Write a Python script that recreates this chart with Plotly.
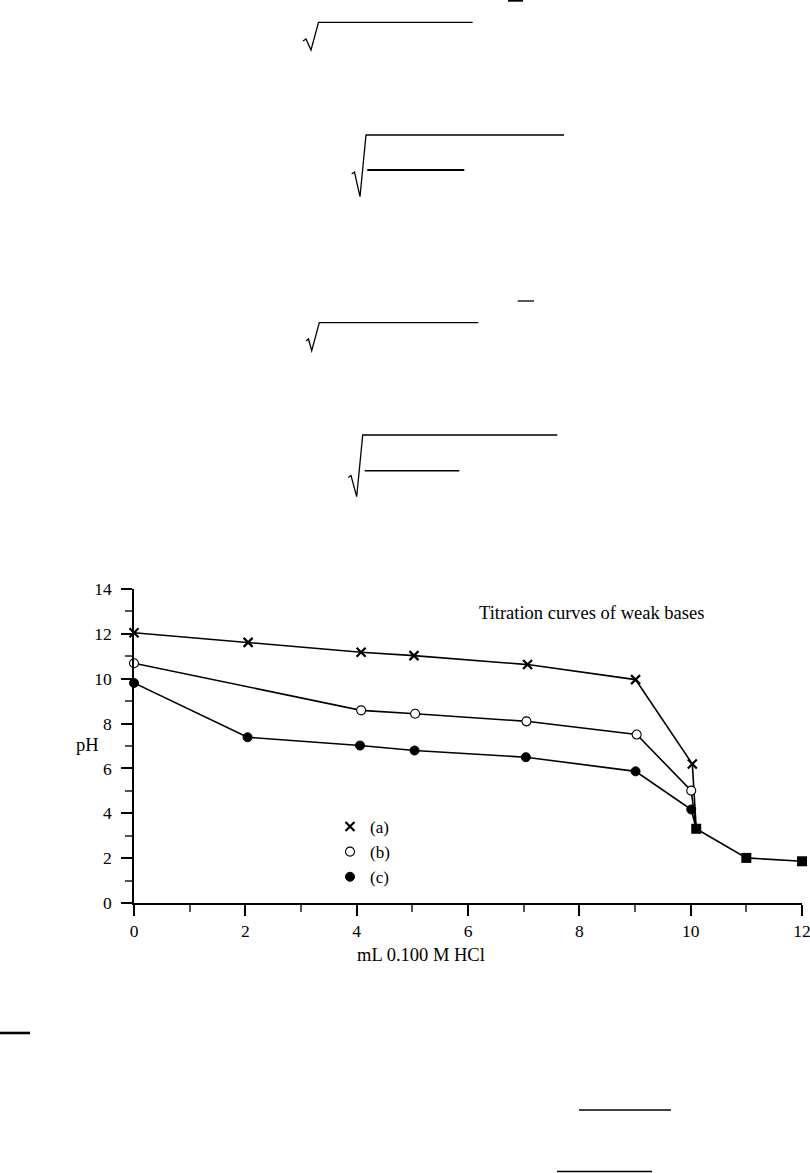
import plotly.graph_objects as go

# ---------------- data ----------------
x_a = [0, 2.05, 4.08, 5.03, 7.07, 9.01, 10.03]
ph_a = [12.05, 11.62, 11.18, 11.03, 10.63, 9.96, 6.2]

x_b = [0, 4.08, 5.05, 7.05, 9.03, 10.01]
ph_b = [10.69, 8.59, 8.44, 8.1, 7.51, 5.01]

x_c = [0, 2.04, 4.06, 5.04, 7.04, 9.01, 10.01]
ph_c = [9.81, 7.39, 7.02, 6.8, 6.5, 5.87, 4.17]

x_excess = [10.1, 11.0, 12.0]
ph_excess = [3.31, 2.01, 1.86]

series_names = ["(a)", "(b)", "(c)"]
title_text = "Titration curves of weak bases"
x_title = "mL 0.100 M HCl"
y_title = "pH"
x_ticks = [0, 2, 4, 6, 8, 10, 12]
y_ticks = [0, 2, 4, 6, 8, 10, 12, 14]

# ---------------- layout geometry ----------------
W, H = 810, 1173
ML, MR, MT, MB = 134, 8, 589, 270
PW = W - ML - MR
PH = H - MT - MB
FONT = "Liberation Serif, Times New Roman, serif"


def px(xp, yp):
    """pixel position on page -> paper coordinates"""
    return (xp - ML) / PW, (H - MB - yp) / PH


fig = go.Figure()

line_style = dict(color="black", width=1.6)

# connecting lines (each series runs into the first excess-acid point)
for xs, ys in [(x_a, ph_a), (x_b, ph_b), (x_c, ph_c)]:
    fig.add_trace(go.Scatter(x=xs + [x_excess[0]], y=ys + [ph_excess[0]],
                             mode="lines", line=line_style,
                             showlegend=False, hoverinfo="skip",
                             cliponaxis=False))

fig.add_trace(go.Scatter(x=x_excess, y=ph_excess, mode="lines+markers",
                         line=line_style,
                         marker=dict(symbol="square", size=10, color="black"),
                         showlegend=False, cliponaxis=False))

fig.add_trace(go.Scatter(x=x_a, y=ph_a, mode="markers", name=series_names[0],
                         marker=dict(symbol="x-thin", size=9,
                                     line=dict(color="black", width=2.2),
                                     color="black"),
                         cliponaxis=False))
fig.add_trace(go.Scatter(x=x_b, y=ph_b, mode="markers", name=series_names[1],
                         marker=dict(symbol="circle", size=9, color="white",
                                     line=dict(color="black", width=1.1)),
                         cliponaxis=False))
fig.add_trace(go.Scatter(x=x_c, y=ph_c, mode="markers", name=series_names[2],
                         marker=dict(symbol="circle", size=9, color="black",
                                     line=dict(color="black", width=1)),
                         cliponaxis=False))

axis_common = dict(showline=True, linecolor="black", linewidth=1.5,
                   showgrid=False, zeroline=False, ticks="outside",
                   tickcolor="black", tickwidth=1.5, ticklen=11,
                   automargin=False,
                   tickfont=dict(family=FONT, size=17.5, color="black"),
                   minor=dict(ticks="outside", ticklen=7, tickwidth=1.5,
                              tickcolor="#555", dtick=1, showgrid=False))

# ---------------- decorative page elements ----------------
shapes = []


def seg(x0, y0, x1, y1, w=1.0, color="black"):
    a = px(x0, y0)
    b = px(x1, y1)
    shapes.append(dict(type="line", xref="paper", yref="paper",
                       x0=a[0], y0=a[1], x1=b[0], y1=b[1],
                       line=dict(color=color, width=w)))


def radical(pts, w=1.3):
    p = [px(*q) for q in pts]
    path = "M " + " L ".join(f"{u:.5f},{v:.5f}" for u, v in p)
    shapes.append(dict(type="path", xref="paper", yref="paper", path=path,
                       line=dict(color="black", width=w)))


# top of page
seg(508, 0.8, 523, 0.8, 1.8)
radical([(303, 41), (306, 39), (311, 50), (318.5, 22.3), (472.7, 22.3)])
radical([(351.7, 174), (354.5, 172), (360, 196.7), (366, 135), (564, 135)])
seg(367.3, 170, 464.3, 170, 2.2)

seg(517.7, 301, 534, 301, 1.3)
radical([(306, 341), (308.5, 339), (311.7, 350.7), (319.3, 322.7), (478.3, 322.7)])
radical([(348.3, 477.5), (351, 475.5), (356.7, 496.7), (362.7, 435), (557.3, 435)])
seg(364.7, 470.7, 459.3, 470.7, 1.4)

# bottom of page
seg(0, 1033, 30, 1033, 2.6)
seg(579, 1110, 671, 1110, 1.5)
seg(557, 1171.5, 652, 1171.5, 1.5)

# ---------------- annotations ----------------
annotations = []
tx, ty = px(477, 613)
annotations.append(dict(text=title_text, x=tx, y=ty, xref="paper", yref="paper",
                        xanchor="left", yanchor="middle", showarrow=False,
                        font=dict(family=FONT, size=18.5, color="black")))
ax_, ay_ = px(101, 745)
annotations.append(dict(text=y_title, x=ax_, y=ay_, xref="paper", yref="paper",
                        xanchor="right", yanchor="middle", showarrow=False,
                        font=dict(family=FONT, size=18.5, color="black")))
bx, by = px(355, 955)
annotations.append(dict(text=x_title, x=bx, y=by, xref="paper", yref="paper",
                        xanchor="left", yanchor="middle", showarrow=False,
                        font=dict(family=FONT, size=18.5, color="black")))

lx, ly = px(330, 852)
fig.update_layout(
    width=W, height=H,
    margin=dict(l=ML, r=MR, t=MT, b=MB, pad=0, autoexpand=False),
    paper_bgcolor="white", plot_bgcolor="white",
    xaxis=dict(range=[0, 12], tickvals=x_ticks, ticklabeloverflow="allow",
               **axis_common),
    yaxis=dict(range=[0, 14], tickvals=y_ticks, ticklabelstandoff=6,
               **axis_common),
    legend=dict(x=lx, y=ly, xanchor="left", yanchor="middle",
                bgcolor="rgba(0,0,0,0)", borderwidth=0,
                font=dict(family=FONT, size=17, color="black")),
    shapes=shapes, annotations=annotations,
    font=dict(family=FONT, color="black"),
)

post = (
    "document.documentElement.style.overflow='hidden';"
    "document.body.style.margin='0';"
    "document.body.style.overflow='hidden';"
)
fig.write_html("out.html", config={"displayModeBar": False}, post_script=post)
